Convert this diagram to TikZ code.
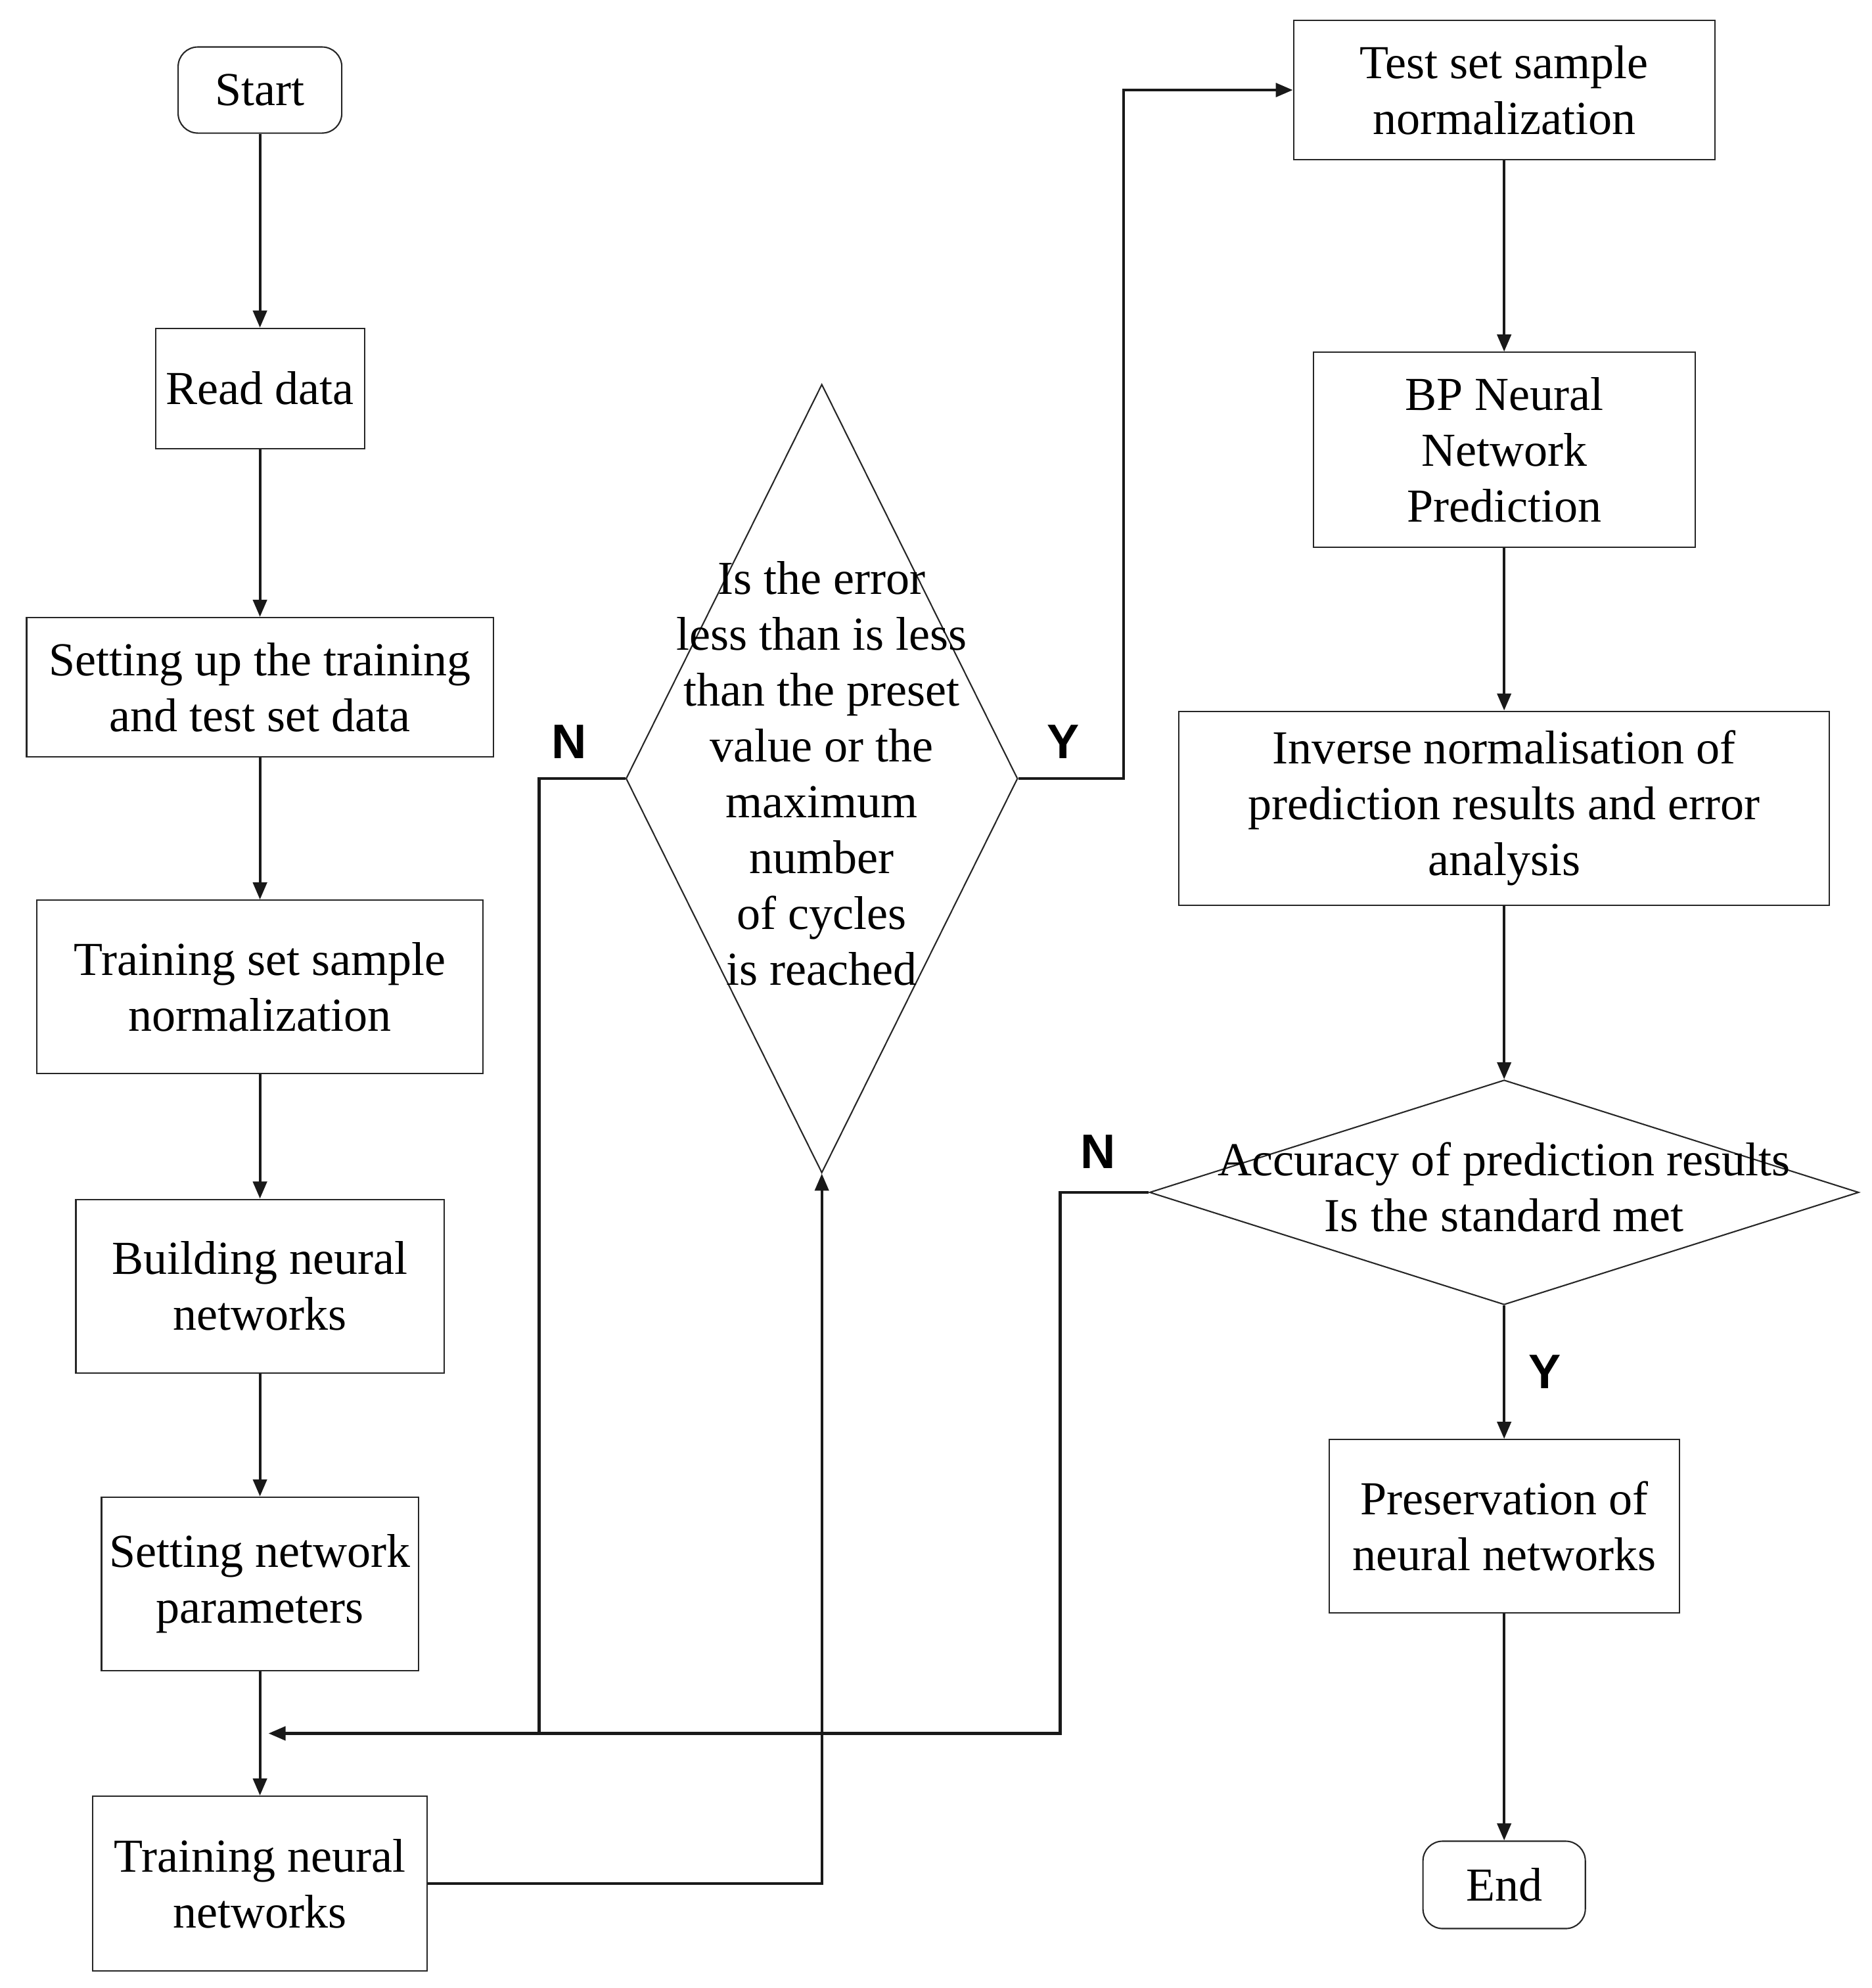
\documentclass[tikz,border=0pt]{standalone}
\usepackage{fontspec}
\setmainfont{Liberation Serif}
\newfontfamily\labelfont{Liberation Sans}
\usetikzlibrary{shapes.geometric, arrows.meta, positioning, calc}
\newcommand{\spill}[1]{\raisebox{-0.25em}[0pt][0pt]{\makebox[0pt]{\begin{tabular}{@{}c@{}}#1\end{tabular}}}}

\begin{document}
\begin{tikzpicture}[
    box/.style={rectangle, draw=black!85, line width=0.6pt, align=center,
        inner sep=2pt, font=\fontsize{20.5}{24.2}\selectfont},
    term/.style={box, rounded corners=0.3cm},
    dec/.style={diamond, draw=black!85, line width=0.6pt, inner sep=0pt,
        font=\fontsize{20.5}{24.2}\selectfont},
    yn/.style={font=\labelfont\bfseries\fontsize{21}{24}\selectfont},
    arr/.style={-{Triangle[length=2.6mm, width=2.1mm]}, line width=1.2pt, black!90},
    wire/.style={line width=1.2pt, black!90},
    node distance=2cm
]
\useasboundingbox (0,0) rectangle (28.48,-30.25);

% training side
\node[term, minimum width=2.49cm, minimum height=1.31cm] (Start) at (3.955,-1.370) {Start};
\node[box, minimum width=3.18cm, minimum height=1.83cm, below=2.95cm of Start] (Read) {Read data};
\node[box, minimum width=7.10cm, minimum height=2.12cm, below=2.55cm of Read] (Split) {Setting up the training\\and test set data};
\node[box, minimum width=6.79cm, minimum height=2.64cm, below=2.16cm of Split] (NormTrain) {Training set sample\\normalization};
\node[box, minimum width=5.60cm, minimum height=2.64cm, below=1.89cm of NormTrain] (Build) {Building neural\\networks};
\node[box, minimum width=4.82cm, minimum height=2.64cm, below=1.87cm of Build] (Params) {Setting network\\parameters};
\node[box, minimum width=5.09cm, minimum height=2.66cm, below=1.89cm of Params] (Train) {Training neural\\networks};

\node[dec, minimum width=5.96cm, minimum height=12.00cm] (Check) at (12.503,-11.847)
    {\spill{Is the error\\less than is less\\than the preset\\value or the\\maximum\\number\\of cycles\\is reached}};

% test side
\node[box, minimum width=6.41cm, minimum height=2.12cm] (NormTest) at (22.884,-1.370) {Test set sample\\normalization};
\node[box, minimum width=5.81cm, minimum height=2.97cm, below=2.91cm of NormTest] (Predict) {BP Neural\\Network\\Prediction};
\node[box, minimum width=9.90cm, minimum height=2.95cm, below=2.47cm of Predict] (Inverse) {Inverse normalisation of\\prediction results and error\\analysis};
\node[dec, minimum width=10.79cm, minimum height=3.42cm, below=2.64cm of Inverse] (Accuracy)
    {\spill{Accuracy of prediction results\\Is the standard met}};
\node[box, minimum width=5.33cm, minimum height=2.64cm, below=2.03cm of Accuracy] (Save) {Preservation of\\neural networks};
\node[term, minimum width=2.47cm, minimum height=1.33cm, below=3.45cm of Save] (End) {End};

\node[yn] (N1) at ($(Check.west)+(-0.85,0.56)$) {N};
\node[yn] (Y1) at ($(Check.east)+(0.68,0.56)$) {Y};
\node[yn] (N2) at ($(Accuracy.west)+(-0.77,0.62)$) {N};
\node[yn] (Y2) at ($(Accuracy.south)!0.5!(Save.north)+(0.62,0)$) {Y};

\coordinate (Join) at ([xshift=0.13cm]$(Params.south)!0.5!(Train.north)$);

\draw[arr] (Start) -- (Read); \draw[arr] (Read) -- (Split); \draw[arr] (Split) -- (NormTrain);
\draw[arr] (NormTrain) -- (Build); \draw[arr] (Build) -- (Params); \draw[arr] (Params) -- (Train);
\draw[arr] (Train.east) -| (Check.south);
\draw[arr] (Check.east) -- ++(1.60,0) |- (NormTest.west);
\draw[wire] (Check.west) -- ++(-1.31,0) coordinate (NTurn) -- (NTurn |- Join);
\draw[arr] (Accuracy.west) -- ++(-1.35,0) |- (Join);
\draw[arr] (NormTest) -- (Predict); \draw[arr] (Predict) -- (Inverse); \draw[arr] (Inverse) -- (Accuracy);
\draw[arr] (Accuracy.south) -- (Save); \draw[arr] (Save) -- (End);
\end{tikzpicture}
\end{document}
